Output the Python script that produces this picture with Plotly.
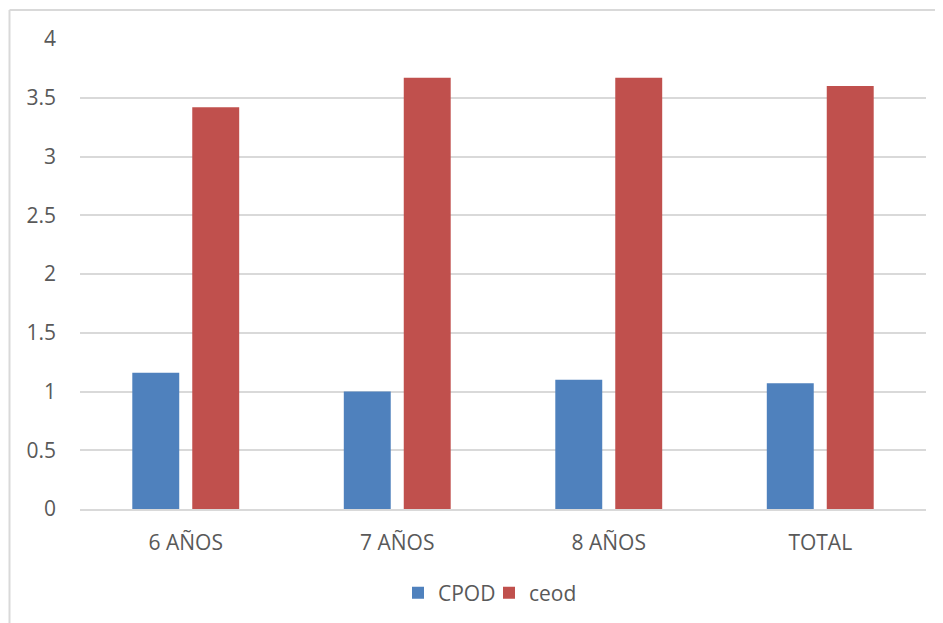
import plotly.graph_objects as go

categories = ["6 AÑOS", "7 AÑOS", "8 AÑOS", "TOTAL"]
cpod = [1.16, 1.0, 1.1, 1.07]
ceod = [3.42, 3.67, 3.67, 3.6]
y_ticks = [0, 0.5, 1, 1.5, 2, 2.5, 3, 3.5, 4]
y_labels = ["0", "0.5", "1", "1.5", "2", "2.5", "3", "3.5", "4"]

OFF = 8  # page body margin
W, H = 943 - OFF, 623 - OFF
L, T = 80 - OFF, 39 - OFF
R = W - (926 - OFF)
B = H - (509 - OFF)

fig = go.Figure()
fig.add_trace(go.Bar(x=categories, y=cpod, name="CPOD",
                     marker=dict(color="#4F81BD", line=dict(width=0))))
fig.add_trace(go.Bar(x=categories, y=ceod, name="ceod",
                     marker=dict(color="#C0504D", line=dict(width=0))))

pw, ph = W - L - R, H - T - B
def px_x(x):
    return (x - OFF - L) / pw
def px_y(y):
    return (H - B - (y - OFF)) / ph

fig.update_layout(
    width=W, height=H,
    margin=dict(l=L, r=R, t=T, b=B, autoexpand=False),
    paper_bgcolor="white", plot_bgcolor="white",
    barmode="group", bargap=0.433, bargroupgap=0.217,
    font=dict(family="Open Sans, Liberation Sans, sans-serif", size=20, color="#595959"),
    xaxis=dict(showgrid=False, showline=True, linecolor="#D9D9D9", linewidth=2,
               ticks="", ticklabelstandoff=14,
               tickfont=dict(size=21, color="#595959")),
    yaxis=dict(range=[0, 4], tickvals=y_ticks, ticktext=y_labels,
               showgrid=True, gridcolor="#D9D9D9", gridwidth=2,
               zeroline=False, showline=False, ticks="", ticklabelstandoff=23,
               tickfont=dict(size=21, color="#595959")),
    legend=dict(orientation="h", x=0.5 - 14 / pw, xanchor="center", y=px_y(593), yanchor="middle",
                font=dict(size=21, color="#595959"), itemwidth=30,
                entrywidth=46, entrywidthmode="pixels"),
    showlegend=True,
    shapes=[
        dict(type="line", xref="paper", yref="paper",
             x0=px_x(9.5), x1=px_x(943), y0=px_y(10), y1=px_y(10),
             line=dict(color="#D9D9D9", width=2)),
        dict(type="line", xref="paper", yref="paper",
             x0=px_x(9.5), x1=px_x(9.5), y0=px_y(10), y1=px_y(623),
             line=dict(color="#D9D9D9", width=2)),
    ],
)

fig.write_html("out.html")
